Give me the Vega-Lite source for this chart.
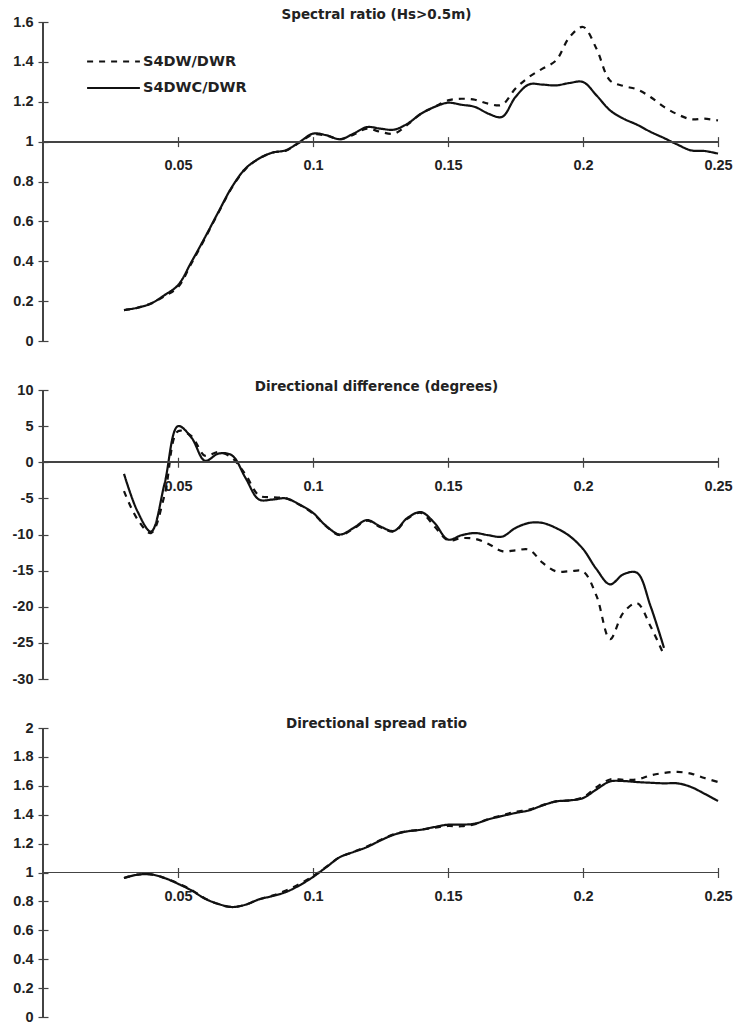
{
  "$schema": "https://vega.github.io/schema/vega-lite/v6.json",
  "background": "white",
  "padding": {"left": 12, "top": 7, "right": 5, "bottom": 5},
  "bounds": "flush",
  "spacing": 49,
  "config": {
    "view": {"stroke": null},
    "axis": {"grid": false, "domain": false, "title": null, "labelFont": "Liberation Sans", "labelFontWeight": "bold", "labelFontSize": 14.5, "labelColor": "#222", "tickColor": "#444", "tickWidth": 1.2, "tickSize": 10, "labelOverlap": false, "labelFlush": false, "labelBound": false},
    "title": {"font": "DejaVu Sans", "fontWeight": "bold", "fontSize": 13.5, "color": "#222", "anchor": "middle", "frame": "group"}
  },
  "resolve": {"scale": {"strokeDash": "independent"}, "legend": {"strokeDash": "independent"}},
  "datasets": {
    "spec": [
      {"f":0.03,"s":"S4DWC/DWR","v":0.155},{"f":0.035,"s":"S4DWC/DWR","v":0.167},{"f":0.04,"s":"S4DWC/DWR","v":0.188},{"f":0.045,"s":"S4DWC/DWR","v":0.23},{"f":0.05,"s":"S4DWC/DWR","v":0.28},{"f":0.055,"s":"S4DWC/DWR","v":0.397},{"f":0.06,"s":"S4DWC/DWR","v":0.52},{"f":0.065,"s":"S4DWC/DWR","v":0.648},{"f":0.07,"s":"S4DWC/DWR","v":0.773},{"f":0.075,"s":"S4DWC/DWR","v":0.865},{"f":0.08,"s":"S4DWC/DWR","v":0.915},{"f":0.085,"s":"S4DWC/DWR","v":0.945},{"f":0.09,"s":"S4DWC/DWR","v":0.957},{"f":0.095,"s":"S4DWC/DWR","v":0.998},{"f":0.1,"s":"S4DWC/DWR","v":1.04},{"f":0.105,"s":"S4DWC/DWR","v":1.032},{"f":0.11,"s":"S4DWC/DWR","v":1.012},{"f":0.115,"s":"S4DWC/DWR","v":1.04},{"f":0.12,"s":"S4DWC/DWR","v":1.073},{"f":0.125,"s":"S4DWC/DWR","v":1.065},{"f":0.13,"s":"S4DWC/DWR","v":1.06},{"f":0.135,"s":"S4DWC/DWR","v":1.09},{"f":0.14,"s":"S4DWC/DWR","v":1.14},{"f":0.145,"s":"S4DWC/DWR","v":1.174},{"f":0.15,"s":"S4DWC/DWR","v":1.195},{"f":0.155,"s":"S4DWC/DWR","v":1.185},{"f":0.16,"s":"S4DWC/DWR","v":1.174},{"f":0.165,"s":"S4DWC/DWR","v":1.14},{"f":0.17,"s":"S4DWC/DWR","v":1.124},{"f":0.175,"s":"S4DWC/DWR","v":1.224},{"f":0.18,"s":"S4DWC/DWR","v":1.287},{"f":0.185,"s":"S4DWC/DWR","v":1.286},{"f":0.19,"s":"S4DWC/DWR","v":1.282},{"f":0.195,"s":"S4DWC/DWR","v":1.294},{"f":0.2,"s":"S4DWC/DWR","v":1.299},{"f":0.205,"s":"S4DWC/DWR","v":1.232},{"f":0.21,"s":"S4DWC/DWR","v":1.157},{"f":0.215,"s":"S4DWC/DWR","v":1.115},{"f":0.22,"s":"S4DWC/DWR","v":1.085},{"f":0.225,"s":"S4DWC/DWR","v":1.049},{"f":0.23,"s":"S4DWC/DWR","v":1.018},{"f":0.235,"s":"S4DWC/DWR","v":0.985},{"f":0.24,"s":"S4DWC/DWR","v":0.956},{"f":0.245,"s":"S4DWC/DWR","v":0.953},{"f":0.25,"s":"S4DWC/DWR","v":0.94},
      {"f":0.03,"s":"S4DW/DWR","v":0.155},{"f":0.035,"s":"S4DW/DWR","v":0.167},{"f":0.04,"s":"S4DW/DWR","v":0.188},{"f":0.045,"s":"S4DW/DWR","v":0.225},{"f":0.05,"s":"S4DW/DWR","v":0.27},{"f":0.055,"s":"S4DW/DWR","v":0.39},{"f":0.06,"s":"S4DW/DWR","v":0.515},{"f":0.065,"s":"S4DW/DWR","v":0.645},{"f":0.07,"s":"S4DW/DWR","v":0.77},{"f":0.075,"s":"S4DW/DWR","v":0.862},{"f":0.08,"s":"S4DW/DWR","v":0.915},{"f":0.085,"s":"S4DW/DWR","v":0.945},{"f":0.09,"s":"S4DW/DWR","v":0.955},{"f":0.095,"s":"S4DW/DWR","v":0.995},{"f":0.1,"s":"S4DW/DWR","v":1.035},{"f":0.105,"s":"S4DW/DWR","v":1.03},{"f":0.11,"s":"S4DW/DWR","v":1.012},{"f":0.115,"s":"S4DW/DWR","v":1.035},{"f":0.12,"s":"S4DW/DWR","v":1.065},{"f":0.125,"s":"S4DW/DWR","v":1.049},{"f":0.13,"s":"S4DW/DWR","v":1.04},{"f":0.135,"s":"S4DW/DWR","v":1.085},{"f":0.14,"s":"S4DW/DWR","v":1.14},{"f":0.145,"s":"S4DW/DWR","v":1.174},{"f":0.15,"s":"S4DW/DWR","v":1.207},{"f":0.155,"s":"S4DW/DWR","v":1.215},{"f":0.16,"s":"S4DW/DWR","v":1.21},{"f":0.165,"s":"S4DW/DWR","v":1.19},{"f":0.17,"s":"S4DW/DWR","v":1.185},{"f":0.175,"s":"S4DW/DWR","v":1.266},{"f":0.18,"s":"S4DW/DWR","v":1.324},{"f":0.185,"s":"S4DW/DWR","v":1.366},{"f":0.19,"s":"S4DW/DWR","v":1.407},{"f":0.195,"s":"S4DW/DWR","v":1.524},{"f":0.2,"s":"S4DW/DWR","v":1.575},{"f":0.205,"s":"S4DW/DWR","v":1.466},{"f":0.21,"s":"S4DW/DWR","v":1.307},{"f":0.215,"s":"S4DW/DWR","v":1.279},{"f":0.22,"s":"S4DW/DWR","v":1.262},{"f":0.225,"s":"S4DW/DWR","v":1.224},{"f":0.23,"s":"S4DW/DWR","v":1.174},{"f":0.235,"s":"S4DW/DWR","v":1.137},{"f":0.24,"s":"S4DW/DWR","v":1.112},{"f":0.245,"s":"S4DW/DWR","v":1.115},{"f":0.25,"s":"S4DW/DWR","v":1.106}
    ],
    "dir": [
      {"f":0.03,"s":"S4DWC/DWR","v":-1.6},{"f":0.035,"s":"S4DWC/DWR","v":-6.8},{"f":0.04,"s":"S4DWC/DWR","v":-9.6},{"f":0.045,"s":"S4DWC/DWR","v":-3.0},{"f":0.05,"s":"S4DWC/DWR","v":5.0},{"f":0.055,"s":"S4DWC/DWR","v":3.4},{"f":0.06,"s":"S4DWC/DWR","v":0.2},{"f":0.065,"s":"S4DWC/DWR","v":1.2},{"f":0.07,"s":"S4DWC/DWR","v":0.95},{"f":0.075,"s":"S4DWC/DWR","v":-2.16},{"f":0.08,"s":"S4DWC/DWR","v":-5.16},{"f":0.085,"s":"S4DWC/DWR","v":-5.16},{"f":0.09,"s":"S4DWC/DWR","v":-5.0},{"f":0.095,"s":"S4DWC/DWR","v":-5.85},{"f":0.1,"s":"S4DWC/DWR","v":-7.0},{"f":0.105,"s":"S4DWC/DWR","v":-8.86},{"f":0.11,"s":"S4DWC/DWR","v":-10.0},{"f":0.115,"s":"S4DWC/DWR","v":-9.1},{"f":0.12,"s":"S4DWC/DWR","v":-8.0},{"f":0.125,"s":"S4DWC/DWR","v":-8.9},{"f":0.13,"s":"S4DWC/DWR","v":-9.5},{"f":0.135,"s":"S4DWC/DWR","v":-7.7},{"f":0.14,"s":"S4DWC/DWR","v":-6.9},{"f":0.145,"s":"S4DWC/DWR","v":-8.4},{"f":0.15,"s":"S4DWC/DWR","v":-10.7},{"f":0.155,"s":"S4DWC/DWR","v":-10.1},{"f":0.16,"s":"S4DWC/DWR","v":-9.8},{"f":0.165,"s":"S4DWC/DWR","v":-10.1},{"f":0.17,"s":"S4DWC/DWR","v":-10.3},{"f":0.175,"s":"S4DWC/DWR","v":-9.1},{"f":0.18,"s":"S4DWC/DWR","v":-8.4},{"f":0.185,"s":"S4DWC/DWR","v":-8.4},{"f":0.19,"s":"S4DWC/DWR","v":-9.1},{"f":0.195,"s":"S4DWC/DWR","v":-10.2},{"f":0.2,"s":"S4DWC/DWR","v":-12.0},{"f":0.205,"s":"S4DWC/DWR","v":-14.8},{"f":0.21,"s":"S4DWC/DWR","v":-16.9},{"f":0.215,"s":"S4DWC/DWR","v":-15.5},{"f":0.22,"s":"S4DWC/DWR","v":-15.3},{"f":0.225,"s":"S4DWC/DWR","v":-19.9},{"f":0.23,"s":"S4DWC/DWR","v":-25.7},
      {"f":0.03,"s":"S4DW/DWR","v":-4.0},{"f":0.035,"s":"S4DW/DWR","v":-7.9},{"f":0.04,"s":"S4DW/DWR","v":-9.8},{"f":0.045,"s":"S4DW/DWR","v":-4.6},{"f":0.05,"s":"S4DW/DWR","v":4.3},{"f":0.055,"s":"S4DW/DWR","v":3.6},{"f":0.06,"s":"S4DW/DWR","v":0.9},{"f":0.065,"s":"S4DW/DWR","v":1.4},{"f":0.07,"s":"S4DW/DWR","v":0.6},{"f":0.075,"s":"S4DW/DWR","v":-1.7},{"f":0.08,"s":"S4DW/DWR","v":-4.6},{"f":0.085,"s":"S4DW/DWR","v":-4.85},{"f":0.09,"s":"S4DW/DWR","v":-5.0},{"f":0.095,"s":"S4DW/DWR","v":-5.9},{"f":0.1,"s":"S4DW/DWR","v":-7.1},{"f":0.105,"s":"S4DW/DWR","v":-8.9},{"f":0.11,"s":"S4DW/DWR","v":-10.1},{"f":0.115,"s":"S4DW/DWR","v":-9.2},{"f":0.12,"s":"S4DW/DWR","v":-8.1},{"f":0.125,"s":"S4DW/DWR","v":-9.0},{"f":0.13,"s":"S4DW/DWR","v":-9.6},{"f":0.135,"s":"S4DW/DWR","v":-7.8},{"f":0.14,"s":"S4DW/DWR","v":-7.0},{"f":0.145,"s":"S4DW/DWR","v":-8.9},{"f":0.15,"s":"S4DW/DWR","v":-10.8},{"f":0.155,"s":"S4DW/DWR","v":-10.5},{"f":0.16,"s":"S4DW/DWR","v":-10.6},{"f":0.165,"s":"S4DW/DWR","v":-11.3},{"f":0.17,"s":"S4DW/DWR","v":-12.3},{"f":0.175,"s":"S4DW/DWR","v":-12.2},{"f":0.18,"s":"S4DW/DWR","v":-12.1},{"f":0.185,"s":"S4DW/DWR","v":-13.9},{"f":0.19,"s":"S4DW/DWR","v":-15.1},{"f":0.195,"s":"S4DW/DWR","v":-15.1},{"f":0.2,"s":"S4DW/DWR","v":-15.1},{"f":0.205,"s":"S4DW/DWR","v":-18.5},{"f":0.21,"s":"S4DW/DWR","v":-24.5},{"f":0.215,"s":"S4DW/DWR","v":-20.8},{"f":0.22,"s":"S4DW/DWR","v":-19.5},{"f":0.225,"s":"S4DW/DWR","v":-22.7},{"f":0.23,"s":"S4DW/DWR","v":-26.7}
    ],
    "spread": [
      {"f":0.03,"s":"S4DWC/DWR","v":0.962},{"f":0.035,"s":"S4DWC/DWR","v":0.985},{"f":0.04,"s":"S4DWC/DWR","v":0.987},{"f":0.045,"s":"S4DWC/DWR","v":0.962},{"f":0.05,"s":"S4DWC/DWR","v":0.922},{"f":0.055,"s":"S4DWC/DWR","v":0.876},{"f":0.06,"s":"S4DWC/DWR","v":0.819},{"f":0.065,"s":"S4DWC/DWR","v":0.782},{"f":0.07,"s":"S4DWC/DWR","v":0.761},{"f":0.075,"s":"S4DWC/DWR","v":0.777},{"f":0.08,"s":"S4DWC/DWR","v":0.814},{"f":0.085,"s":"S4DWC/DWR","v":0.837},{"f":0.09,"s":"S4DWC/DWR","v":0.865},{"f":0.095,"s":"S4DWC/DWR","v":0.911},{"f":0.1,"s":"S4DWC/DWR","v":0.969},{"f":0.105,"s":"S4DWC/DWR","v":1.038},{"f":0.11,"s":"S4DWC/DWR","v":1.107},{"f":0.115,"s":"S4DWC/DWR","v":1.142},{"f":0.12,"s":"S4DWC/DWR","v":1.176},{"f":0.125,"s":"S4DWC/DWR","v":1.222},{"f":0.13,"s":"S4DWC/DWR","v":1.262},{"f":0.135,"s":"S4DWC/DWR","v":1.285},{"f":0.14,"s":"S4DWC/DWR","v":1.296},{"f":0.145,"s":"S4DWC/DWR","v":1.315},{"f":0.15,"s":"S4DWC/DWR","v":1.331},{"f":0.155,"s":"S4DWC/DWR","v":1.331},{"f":0.16,"s":"S4DWC/DWR","v":1.338},{"f":0.165,"s":"S4DWC/DWR","v":1.368},{"f":0.17,"s":"S4DWC/DWR","v":1.391},{"f":0.175,"s":"S4DWC/DWR","v":1.412},{"f":0.18,"s":"S4DWC/DWR","v":1.43},{"f":0.185,"s":"S4DWC/DWR","v":1.464},{"f":0.19,"s":"S4DWC/DWR","v":1.492},{"f":0.195,"s":"S4DWC/DWR","v":1.499},{"f":0.2,"s":"S4DWC/DWR","v":1.515},{"f":0.205,"s":"S4DWC/DWR","v":1.575},{"f":0.21,"s":"S4DWC/DWR","v":1.63},{"f":0.215,"s":"S4DWC/DWR","v":1.633},{"f":0.22,"s":"S4DWC/DWR","v":1.626},{"f":0.225,"s":"S4DWC/DWR","v":1.621},{"f":0.23,"s":"S4DWC/DWR","v":1.617},{"f":0.235,"s":"S4DWC/DWR","v":1.617},{"f":0.24,"s":"S4DWC/DWR","v":1.592},{"f":0.245,"s":"S4DWC/DWR","v":1.545},{"f":0.25,"s":"S4DWC/DWR","v":1.495},
      {"f":0.03,"s":"S4DW/DWR","v":0.962},{"f":0.035,"s":"S4DW/DWR","v":0.985},{"f":0.04,"s":"S4DW/DWR","v":0.987},{"f":0.045,"s":"S4DW/DWR","v":0.962},{"f":0.05,"s":"S4DW/DWR","v":0.925},{"f":0.055,"s":"S4DW/DWR","v":0.88},{"f":0.06,"s":"S4DW/DWR","v":0.82},{"f":0.065,"s":"S4DW/DWR","v":0.782},{"f":0.07,"s":"S4DW/DWR","v":0.761},{"f":0.075,"s":"S4DW/DWR","v":0.777},{"f":0.08,"s":"S4DW/DWR","v":0.814},{"f":0.085,"s":"S4DW/DWR","v":0.84},{"f":0.09,"s":"S4DW/DWR","v":0.875},{"f":0.095,"s":"S4DW/DWR","v":0.92},{"f":0.1,"s":"S4DW/DWR","v":0.975},{"f":0.105,"s":"S4DW/DWR","v":1.04},{"f":0.11,"s":"S4DW/DWR","v":1.107},{"f":0.115,"s":"S4DW/DWR","v":1.142},{"f":0.12,"s":"S4DW/DWR","v":1.18},{"f":0.125,"s":"S4DW/DWR","v":1.225},{"f":0.13,"s":"S4DW/DWR","v":1.265},{"f":0.135,"s":"S4DW/DWR","v":1.285},{"f":0.14,"s":"S4DW/DWR","v":1.296},{"f":0.145,"s":"S4DW/DWR","v":1.31},{"f":0.15,"s":"S4DW/DWR","v":1.322},{"f":0.155,"s":"S4DW/DWR","v":1.32},{"f":0.16,"s":"S4DW/DWR","v":1.335},{"f":0.165,"s":"S4DW/DWR","v":1.37},{"f":0.17,"s":"S4DW/DWR","v":1.395},{"f":0.175,"s":"S4DW/DWR","v":1.42},{"f":0.18,"s":"S4DW/DWR","v":1.435},{"f":0.185,"s":"S4DW/DWR","v":1.466},{"f":0.19,"s":"S4DW/DWR","v":1.492},{"f":0.195,"s":"S4DW/DWR","v":1.499},{"f":0.2,"s":"S4DW/DWR","v":1.52},{"f":0.205,"s":"S4DW/DWR","v":1.59},{"f":0.21,"s":"S4DW/DWR","v":1.644},{"f":0.215,"s":"S4DW/DWR","v":1.642},{"f":0.22,"s":"S4DW/DWR","v":1.644},{"f":0.225,"s":"S4DW/DWR","v":1.672},{"f":0.23,"s":"S4DW/DWR","v":1.689},{"f":0.235,"s":"S4DW/DWR","v":1.696},{"f":0.24,"s":"S4DW/DWR","v":1.684},{"f":0.245,"s":"S4DW/DWR","v":1.654},{"f":0.25,"s":"S4DW/DWR","v":1.626}
    ]
  },
  "vconcat": [
    {
      "width": 675, "height": 319,
      "title": {"text": "Spectral ratio (Hs>0.5m)", "offset": -7, "dx": -4},
      "data": {"name": "spec"},
      "layer": [
        {
          "mark": {"type": "line", "interpolate": "catmull-rom", "strokeWidth": 2.2, "color": "#111"},
          "encoding": {
            "x": {"field": "f", "type": "quantitative", "scale": {"domain": [0, 0.25], "nice": false, "zero": false},
                  "axis": {"values": [0.05, 0.1, 0.15, 0.2, 0.25], "offset": -204.4, "labelPadding": 12, "labelExpr": "'' + datum.value"}},
            "y": {"field": "v", "type": "quantitative", "scale": {"domain": [0, 1.6], "nice": false},
                  "axis": {"values": [0, 0.2, 0.4, 0.6, 0.8, 1, 1.2, 1.4, 1.6], "offset": -5, "labelPadding": 5, "labelExpr": "'' + datum.value"}},
            "strokeDash": {"field": "s", "type": "nominal",
              "scale": {"domain": ["S4DW/DWR", "S4DWC/DWR"], "range": [[6, 6], [1, 0]]},
              "legend": {"orient": "none", "legendX": 57, "legendY": 26, "title": null, "padding": 0,
                "symbolType": "M-2.2,0H2.2", "symbolSize": 576, "symbolStrokeWidth": 2.2, "symbolStrokeColor": "#111",
                "labelFont": "DejaVu Sans", "labelFontWeight": "bold", "labelFontSize": 14.5, "labelColor": "#222",
                "labelOffset": 16, "rowPadding": 6.5}}
          }
        },
        {"mark": {"type": "rule", "color": "#444", "strokeWidth": 1.2}, "encoding": {"x": {"datum": 0, "type": "quantitative",
          "axis": {"values": [0.05, 0.1, 0.15, 0.2, 0.25], "offset": -204.4, "labelPadding": 12, "labelExpr": "'' + datum.value"}}}},
        {"mark": {"type": "rule", "color": "#444", "strokeWidth": 1.2}, "encoding": {"y": {"datum": 1, "type": "quantitative",
          "axis": {"values": [0, 0.2, 0.4, 0.6, 0.8, 1, 1.2, 1.4, 1.6], "offset": -5, "labelPadding": 5, "labelExpr": "'' + datum.value"}}}}
      ]
    },
    {
      "width": 675, "height": 289,
      "title": {"text": "Directional difference (degrees)", "offset": -11, "dx": -4},
      "data": {"name": "dir"},
      "layer": [
        {
          "mark": {"type": "line", "interpolate": "catmull-rom", "strokeWidth": 2.2, "color": "#111"},
          "encoding": {
            "x": {"field": "f", "type": "quantitative", "scale": {"domain": [0, 0.25], "nice": false, "zero": false},
                  "axis": {"values": [0.05, 0.1, 0.15, 0.2, 0.25], "offset": -221.75, "labelPadding": 12, "labelExpr": "'' + datum.value"}},
            "y": {"field": "v", "type": "quantitative", "scale": {"domain": [-30, 10], "nice": false},
                  "axis": {"values": [-30, -25, -20, -15, -10, -5, 0, 5, 10], "offset": -5, "labelPadding": 5, "labelExpr": "'' + datum.value"}},
            "strokeDash": {"field": "s", "type": "nominal",
              "scale": {"domain": ["S4DW/DWR", "S4DWC/DWR"], "range": [[6, 6], [1, 0]]}, "legend": null}
          }
        },
        {"mark": {"type": "rule", "color": "#444", "strokeWidth": 1.2}, "encoding": {"x": {"datum": 0, "type": "quantitative",
          "axis": {"values": [0.05, 0.1, 0.15, 0.2, 0.25], "offset": -221.75, "labelPadding": 12, "labelExpr": "'' + datum.value"}}}},
        {"mark": {"type": "rule", "color": "#444", "strokeWidth": 1.2}, "encoding": {"y": {"datum": 0, "type": "quantitative",
          "axis": {"values": [-30, -25, -20, -15, -10, -5, 0, 5, 10], "offset": -5, "labelPadding": 5, "labelExpr": "'' + datum.value"}}}}
      ]
    },
    {
      "width": 675, "height": 289,
      "title": {"text": "Directional spread ratio", "offset": -10, "dx": -4},
      "data": {"name": "spread"},
      "layer": [
        {
          "mark": {"type": "line", "interpolate": "catmull-rom", "strokeWidth": 2.2, "color": "#111"},
          "encoding": {
            "x": {"field": "f", "type": "quantitative", "scale": {"domain": [0, 0.25], "nice": false, "zero": false},
                  "axis": {"values": [0.05, 0.1, 0.15, 0.2, 0.25], "offset": -149.5, "labelPadding": 12, "labelExpr": "'' + datum.value"}},
            "y": {"field": "v", "type": "quantitative", "scale": {"domain": [0, 2], "nice": false},
                  "axis": {"values": [0, 0.2, 0.4, 0.6, 0.8, 1, 1.2, 1.4, 1.6, 1.8, 2], "offset": -5, "labelPadding": 5, "labelExpr": "'' + datum.value"}},
            "strokeDash": {"field": "s", "type": "nominal",
              "scale": {"domain": ["S4DW/DWR", "S4DWC/DWR"], "range": [[6, 6], [1, 0]]}, "legend": null}
          }
        },
        {"mark": {"type": "rule", "color": "#444", "strokeWidth": 1.2}, "encoding": {"x": {"datum": 0, "type": "quantitative",
          "axis": {"values": [0.05, 0.1, 0.15, 0.2, 0.25], "offset": -149.5, "labelPadding": 12, "labelExpr": "'' + datum.value"}}}},
        {"mark": {"type": "rule", "color": "#444", "strokeWidth": 1.2}, "encoding": {"y": {"datum": 1, "type": "quantitative",
          "axis": {"values": [0, 0.2, 0.4, 0.6, 0.8, 1, 1.2, 1.4, 1.6, 1.8, 2], "offset": -5, "labelPadding": 5, "labelExpr": "'' + datum.value"}}}}
      ]
    }
  ]
}
